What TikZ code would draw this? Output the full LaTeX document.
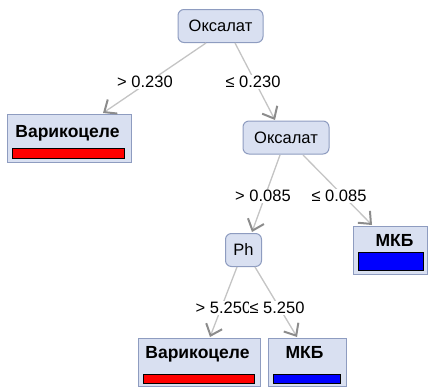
\documentclass[tikz,border=0pt]{standalone}
\usepackage{fontspec}
\setmainfont{Liberation Sans}
\usetikzlibrary{arrows.meta}
\definecolor{boxfill}{HTML}{D9E0F1}
\definecolor{boxline}{HTML}{8E9CC0}
\definecolor{edgecol}{HTML}{C4C4C4}
\definecolor{tipcol}{HTML}{8C8C8C}
\definecolor{barred}{HTML}{FF0000}
\definecolor{barblue}{HTML}{0000FF}
\tikzset{
  inner/.style={draw=boxline, fill=boxfill, rounded corners=6pt, line width=1pt, minimum height=33pt, inner sep=0pt, font=\fontsize{16.5}{18}\selectfont},
  leaf/.style={draw=boxline, fill=boxfill, line width=1pt, minimum height=48pt},
  leaftitle/.style={font=\fontsize{17.5}{19}\selectfont\bfseries, inner sep=0pt, anchor=base},
  bar/.style={draw=black, line width=0.8pt},
  edge/.style={draw=edgecol, line width=1.3pt, -{Straight Barb[length=10pt, width=17pt, line width=2pt, color=tipcol]}},
  elabel/.style={font=\fontsize{16.5}{18}\selectfont, fill=white, inner sep=1pt},
}
\begin{document}
\begin{tikzpicture}[x=1pt, y=-1pt]
\useasboundingbox (0,0) rectangle (428,389);
% nodes
\node[inner, minimum width=85pt] (root) at (220.5,26) {Оксалат};
\node[inner, minimum width=86pt] (ox2) at (286,137.5) {Оксалат};
\node[inner, minimum width=36pt] (ph) at (243.5,250) {Ph};
% leaves
\node[leaf, minimum width=124pt] (v1) at (69,138) {};
\node[leaftitle] (v1t) at (67.5,137.5) {Варикоцеле};
\fill[barred] (12,148) rectangle (124,158);
\draw[bar] (12,148) rectangle (124,158);
\node[leaf, minimum width=74pt] (m1) at (390,250.5) {};
\node[leaftitle] (m1t) at (394.5,246) {МКБ};
\fill[barblue] (358,252) rectangle (423,270);
\draw[bar] (358,252) rectangle (423,270);
\node[leaf, minimum width=122pt] (v2) at (199,362) {};
\node[leaftitle] (v2t) at (197.5,358) {Варикоцеле};
\fill[barred] (143,374) rectangle (254,383);
\draw[bar] (143,374) rectangle (254,383);
\node[leaf, minimum width=78pt] (m2) at (307,362) {};
\node[leaftitle] (m2t) at (304.5,358) {МКБ};
\fill[barblue] (273,374) rectangle (340,383);
\draw[bar] (273,374) rectangle (340,383);
% anchor coordinates
\coordinate (r1) at (206,43);
\coordinate (r2) at (235,43);
\coordinate (t1) at (103,113);
\coordinate (t2) at (275,120);
\coordinate (o1) at (280,155);
\coordinate (o2) at (303,155);
\coordinate (t3) at (252,232);
\coordinate (t4) at (372,225);
\coordinate (p1) at (237,267);
\coordinate (p2) at (255,267);
\coordinate (t5) at (210,337);
\coordinate (t6) at (297,337);
% edges
\draw[edge] (r1) -- (t1);
\draw[edge] (r2) -- (t2);
\draw[edge] (o1) -- (t3);
\draw[edge] (o2) -- (t4);
\draw[edge] (p1) -- (t5);
\draw[edge] (p2) -- (t6);
% labels
\node[elabel] (l1) at (145,82) {> 0.230};
\node[elabel] (l2) at (253,82) {≤ 0.230};
\node[elabel] (l3) at (263,196) {> 0.085};
\node[elabel] (l4) at (339,196) {≤ 0.085};
\node[elabel] (l5) at (223.5,308) {> 5.250};
\node[elabel] (l6) at (277,308) {≤ 5.250};
\end{tikzpicture}
\end{document}
